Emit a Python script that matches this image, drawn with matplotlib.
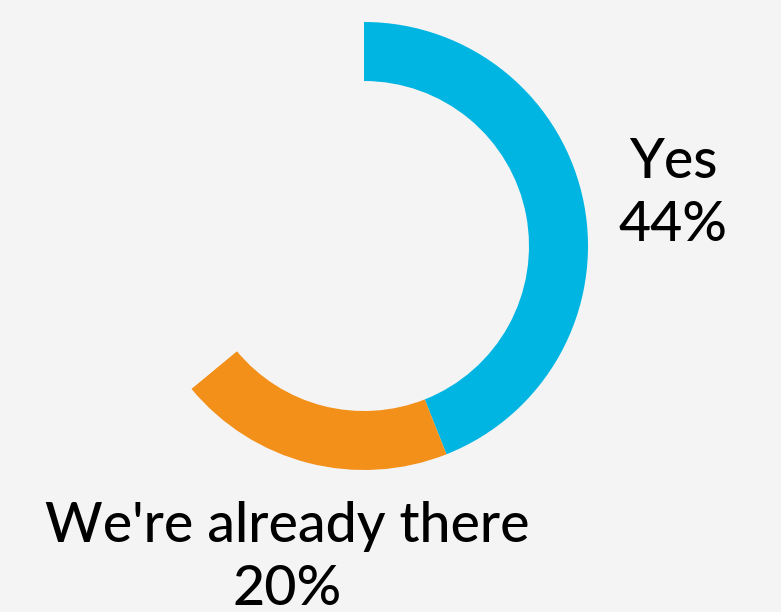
import matplotlib
matplotlib.use("Agg")
import matplotlib.pyplot as plt

categories = ["Yes", "We're already there", "No"]
values = [44, 20, 36]
colors = ["#00b5e2", "#f39019", "#f4f4f4"]
show_label = [True, True, False]

BG = "#f4f4f4"
W, H = 781, 612
fig = plt.figure(figsize=(W / 100, H / 100), dpi=100, facecolor=BG)

cx, cy, R = 364, 246, 224
ax = fig.add_axes([(cx - R) / W, (H - cy - R) / H, 2 * R / W, 2 * R / H])
ax.set_facecolor(BG)
ax.pie(values, colors=colors, startangle=90, counterclock=False, radius=1.0,
       wedgeprops=dict(width=59 / 224, edgecolor="none", linewidth=0))
ax.set_xlim(-1, 1)
ax.set_ylim(-1, 1)
ax.set_aspect("equal")
ax.axis("off")

label_pos = {"Yes": (673, 194), "We're already there": (287, 558)}
for cat, val, show in zip(categories, values, show_label):
    if not show:
        continue
    px, py = label_pos[cat]
    fig.text(px / W, 1 - py / H, f"{cat}\n{val}%", ha="center", va="center",
             fontsize=40, family=["Lato", "DejaVu Sans"], weight="medium",
             color="black", linespacing=1.3)

fig.savefig("out.png", dpi=100, facecolor=BG)
